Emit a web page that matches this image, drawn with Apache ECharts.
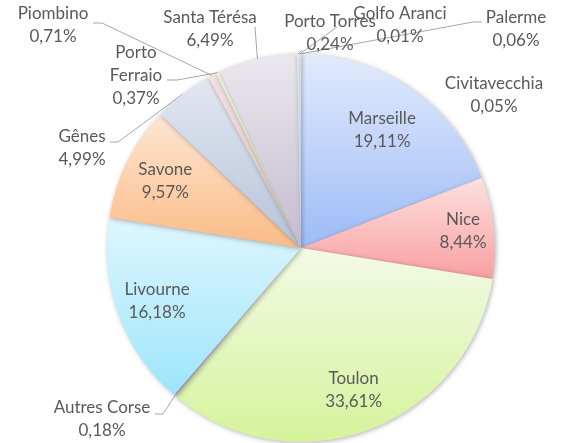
<!DOCTYPE html>
<html>
<head>
<meta charset="utf-8">
<script src="https://cdn.jsdelivr.net/npm/echarts@6/dist/echarts.min.js"></script>
<style>
  html, body { margin: 0; padding: 0; background: #fff; }
  #chart { width: 562px; height: 443px; }
</style>
</head>
<body>
<div id="chart"></div>
<script>
const ports = ['Marseille', 'Nice', 'Toulon', 'Autres Corse', 'Livourne', 'Savone', 'Gênes',
  'Piombino', 'Porto Ferraio', 'Santa Térésa', 'Porto Torres', 'Golfo Aranci', 'Palerme', 'Civitavecchia'];
const shares = [19.11, 8.44, 33.61, 0.18, 16.18, 9.57, 4.99, 0.71, 0.37, 6.49, 0.24, 0.01, 0.06, 0.05];

// gradient top / bottom per slice
const colorTop = ['#e2ebfc', '#fde0df', '#f3fae6', '#e3d9f0', '#dff6fd', '#fde6d3', '#e3e8f1',
  '#f3e2e2', '#eef4e2', '#ebe8ee', '#e0eef3', '#f8e8dc', '#e4ebf6', '#f6e5e5'];
const colorBottom = ['#9dbbf7', '#f9a0a0', '#d5f39b', '#c2b0dd', '#9de5fb', '#fbbb86', '#b5c2d8',
  '#dcc0c0', '#d3e3bb', '#c4bacd', '#b5d3df', '#e8c9b0', '#b8c9e6', '#e3bfbf'];

const CX = 301, CY = 248, R = 194;

// label placement: inside -> fraction of radius; outside -> text centre + leader elbow
const placement = {
  'Marseille': { inside: 0.74 },
  'Nice': { inside: 0.84 },
  'Toulon': { inside: 0.78 },
  'Livourne': { inside: 0.79 },
  'Savone': { inside: 0.78 },
  'Autres Corse': { at: [102, 419], line: [[163, 414], [155, 414]] },
  'Gênes': { at: [82, 148], line: [[118, 142], [110, 142]] },
  'Piombino': { at: [53, 25], line: [[102, 23], [93, 23]] },
  'Porto Ferraio': { at: [136, 76], line: [[177, 80], [167, 80]] },
  'Santa Térésa': { at: [210, 29], line: [[255, 27]] },
  'Porto Torres': { at: [330, 33], line: [[302, 50]] },
  'Golfo Aranci': { at: [400, 25], line: [[337, 27]] },
  'Palerme': { at: [516, 29], line: [[473, 22], [482, 22]] },
  'Civitavecchia': { at: [494, 95] }
};

const total = shares.reduce((a, b) => a + b, 0);
const midAngle = [];
let acc = 0;
shares.forEach(v => {
  midAngle.push((acc + v / 2) / total * Math.PI * 2);
  acc += v;
});
const polar = (a, r) => [CX + r * Math.sin(a), CY - r * Math.cos(a)];

const chart = echarts.init(document.getElementById('chart'));

chart.setOption({
  animation: false,
  series: [
    {
      type: 'pie',
      center: [CX, CY],
      radius: R,
      startAngle: 90,
      clockwise: true,
      minAngle: 0,
      avoidLabelOverlap: false,
      itemStyle: {
        shadowBlur: 5,
        shadowColor: 'rgba(0,0,0,0.3)',
        shadowOffsetX: 1,
        shadowOffsetY: 1
      },
      label: {
        show: true,
        color: '#595959',
        fontFamily: 'Lato',
        fontSize: 17,
        lineHeight: 23,
        align: 'center',
        formatter: p => {
          const name = p.name === 'Porto Ferraio' ? 'Porto\nFerraio' : p.name;
          return name + '\n' + p.value.toFixed(2).replace('.', ',') + '%';
        }
      },
      labelLine: {
        show: true,
        lineStyle: { color: '#a6a6a6', width: 1 }
      },
      labelLayout: params => {
        const i = params.dataIndex;
        const pl = placement[ports[i]];
        if (pl.inside) {
          const [x, y] = polar(midAngle[i], R * pl.inside);
          return { x, y, align: 'center', verticalAlign: 'middle', labelLinePoints: [[x, y], [x, y], [x, y]] };
        }
        const start = polar(midAngle[i], R);
        const pts = [start].concat(pl.line || [start]);
        while (pts.length < 3) pts.push(pts[pts.length - 1]);
        return {
          x: pl.at[0], y: pl.at[1], align: 'center', verticalAlign: 'middle',
          labelLinePoints: pl.line ? pts : [start, start, start]
        };
      },
      data: ports.map((name, i) => ({
        name,
        value: shares[i],
        labelLine: { show: !!placement[name].line },
        itemStyle: {
          color: new echarts.graphic.LinearGradient(0, 0, 0, 1, [
            { offset: 0, color: colorTop[i] },
            { offset: 1, color: colorBottom[i] }
          ])
        }
      }))
    }
  ]
});
</script>
</body>
</html>
